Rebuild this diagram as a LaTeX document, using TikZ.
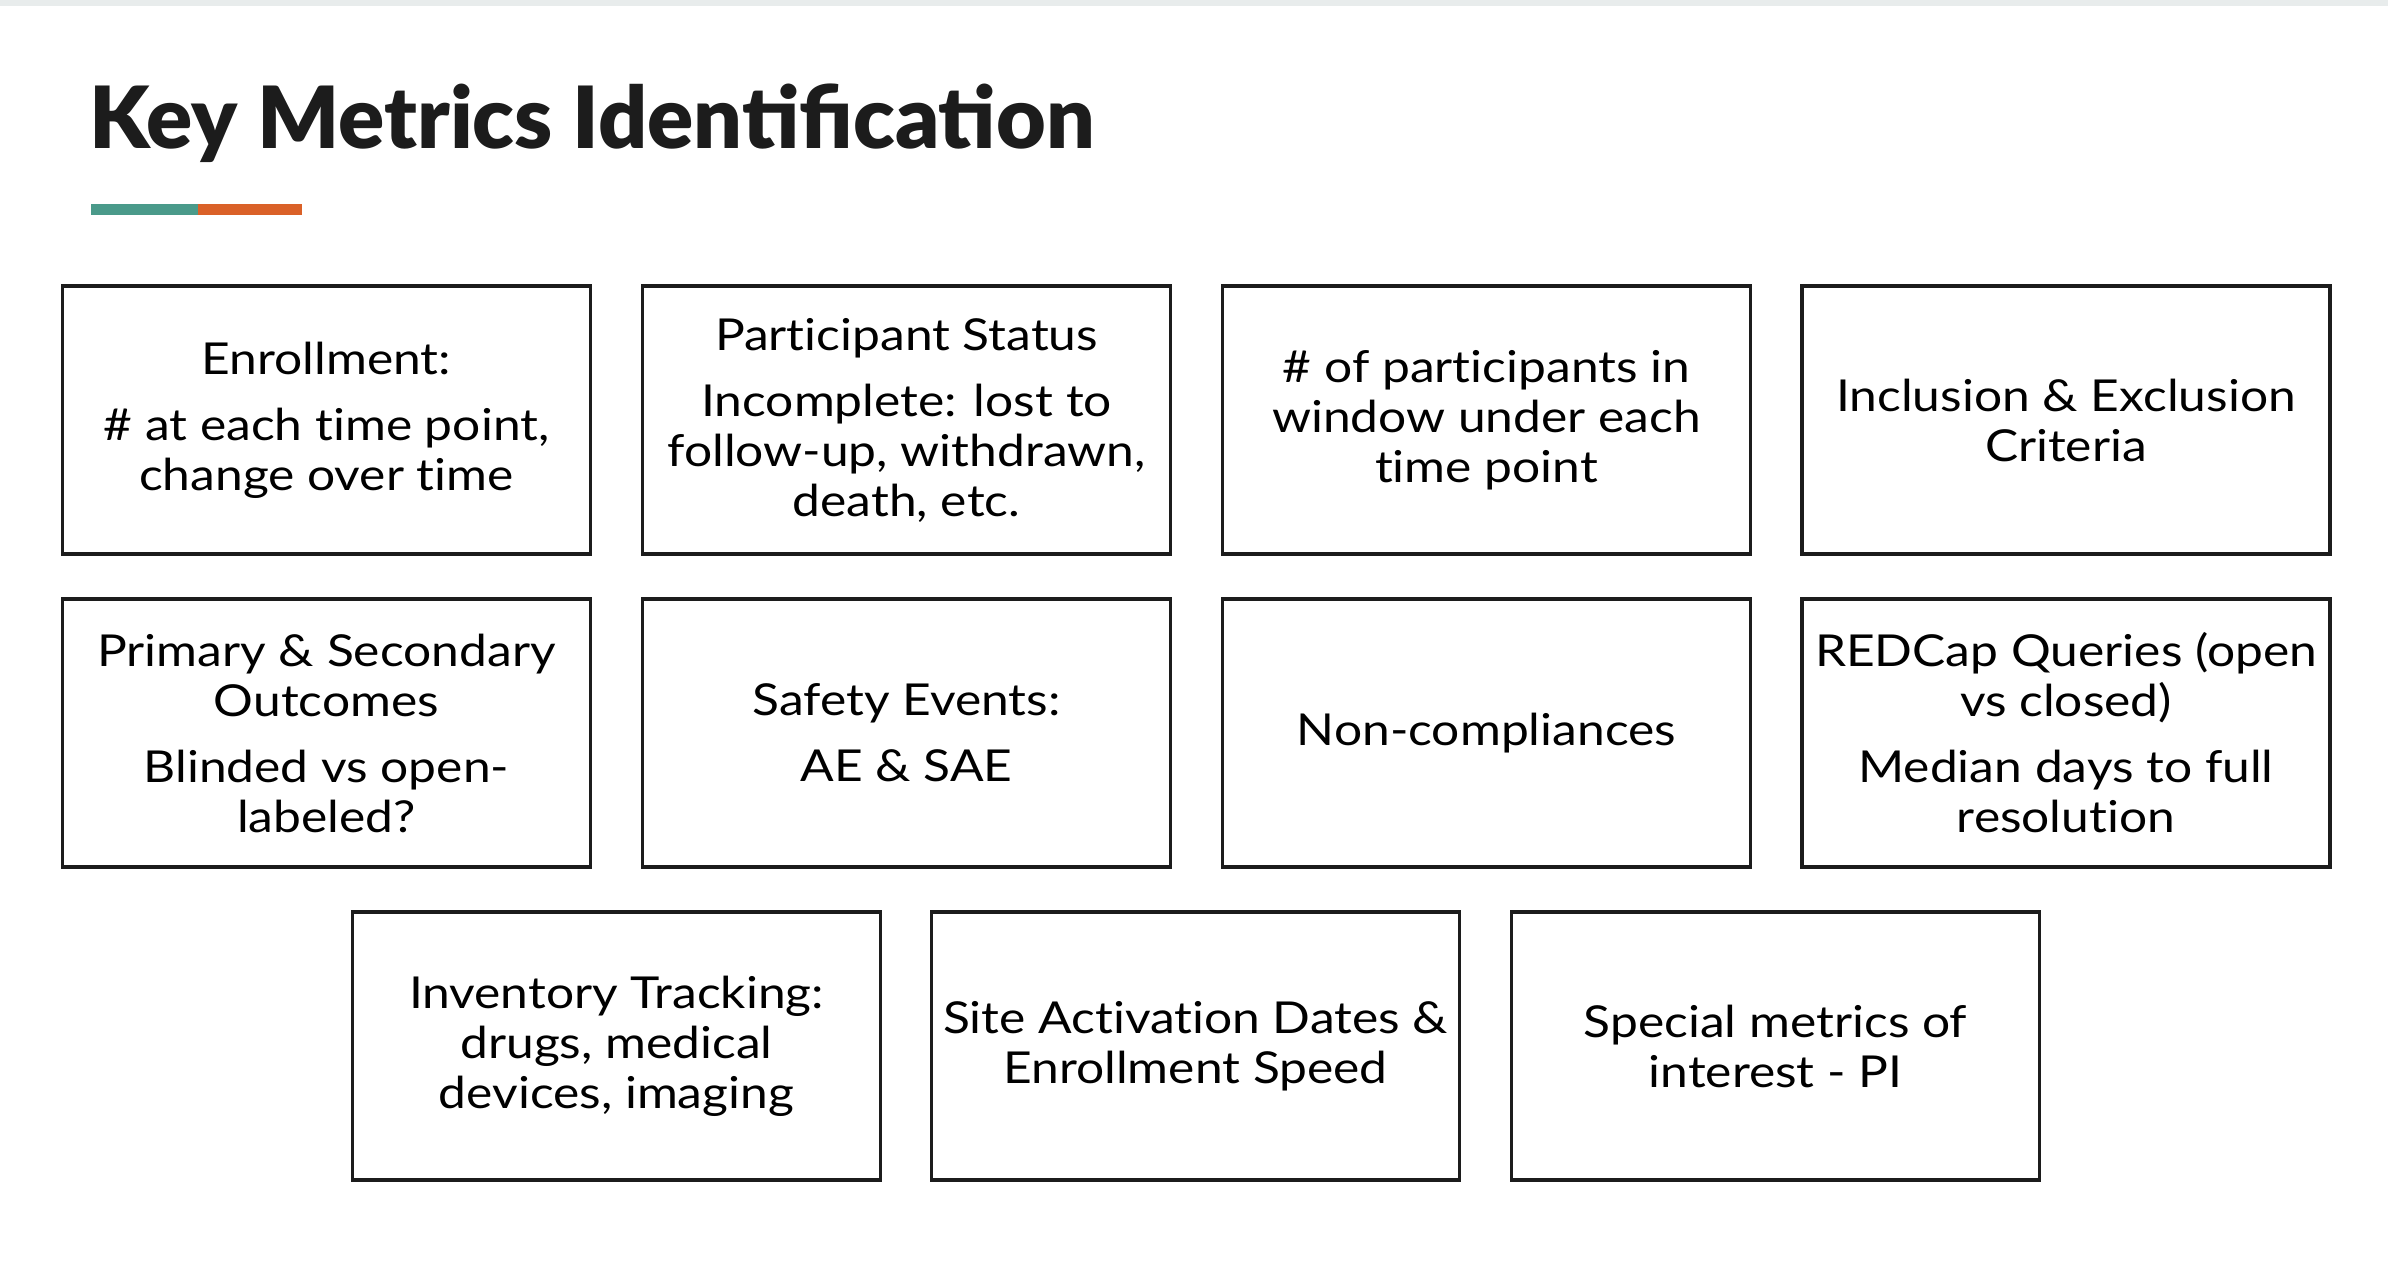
\documentclass[tikz,border=0pt]{standalone}
\usepackage{fontspec}
\setmainfont{Lato}[FakeStretch=1.13,Ligatures=NoCommon]
\newfontfamily\titlefont{Lato Black}
\definecolor{teal1}{HTML}{4A9A8A}
\definecolor{orange1}{HTML}{DA6128}
\definecolor{ink}{HTML}{1C1C1C}
\definecolor{strip}{HTML}{E8ECEC}
\begin{document}
\begin{tikzpicture}[x=1pt,y=-1pt,
  metric/.style={draw=ink,line width=3.5pt,minimum width=528pt,minimum height=268pt,
    inner sep=0pt,align=center,text=black,
    font=\fontsize{44}{50}\selectfont},
]
\useasboundingbox[fill=white] (0,0) rectangle (2388,1284);
\fill[strip] (0,0) rectangle (2388,6);
\node[anchor=base west,inner sep=0pt,text=ink,font=\titlefont\fontsize{85.8}{90}\selectfont] (title) at (89,149) {Key Metrics Identification};
\fill[teal1] (91,204) rectangle (198,215);
\fill[orange1] (198,204) rectangle (302,215);
% row 1
\node[metric] (enr) at (326.5,420) {Enrollment:\\[16pt]\# at each time point,\\change over time};
\node[metric] (ps) at (906.5,420) {Participant Status\\[16pt]Incomplete: lost to\\follow-up, withdrawn,\\death, etc.};
\node[metric] (win) at (1486.5,420) {\# of participants in\\window under each\\time point};
\node[metric] (ie) at (2066,420) {Inclusion \& Exclusion\\Criteria};
% row 2
\node[metric] (out) at (326.5,733) {Primary \& Secondary\\Outcomes\\[16pt]Blinded vs open-\\labeled?};
\node[metric] (saf) at (906.5,733) {Safety Events:\\[16pt]AE \& SAE};
\node[metric] (nc) at (1486.5,733) {Non-compliances};
\node[metric] (red) at (2066,733) {REDCap Queries (open\\vs closed)\\[16pt]Median days to full\\resolution};
% row 3
\node[metric] (inv) at (616.5,1046) {Inventory Tracking:\\drugs, medical\\devices, imaging};
\node[metric] (site) at (1195.5,1046) {Site Activation Dates \&\\Enrollment Speed};
\node[metric] (spec) at (1775.5,1046) {Special metrics of\\interest - PI};
\end{tikzpicture}
\end{document}
